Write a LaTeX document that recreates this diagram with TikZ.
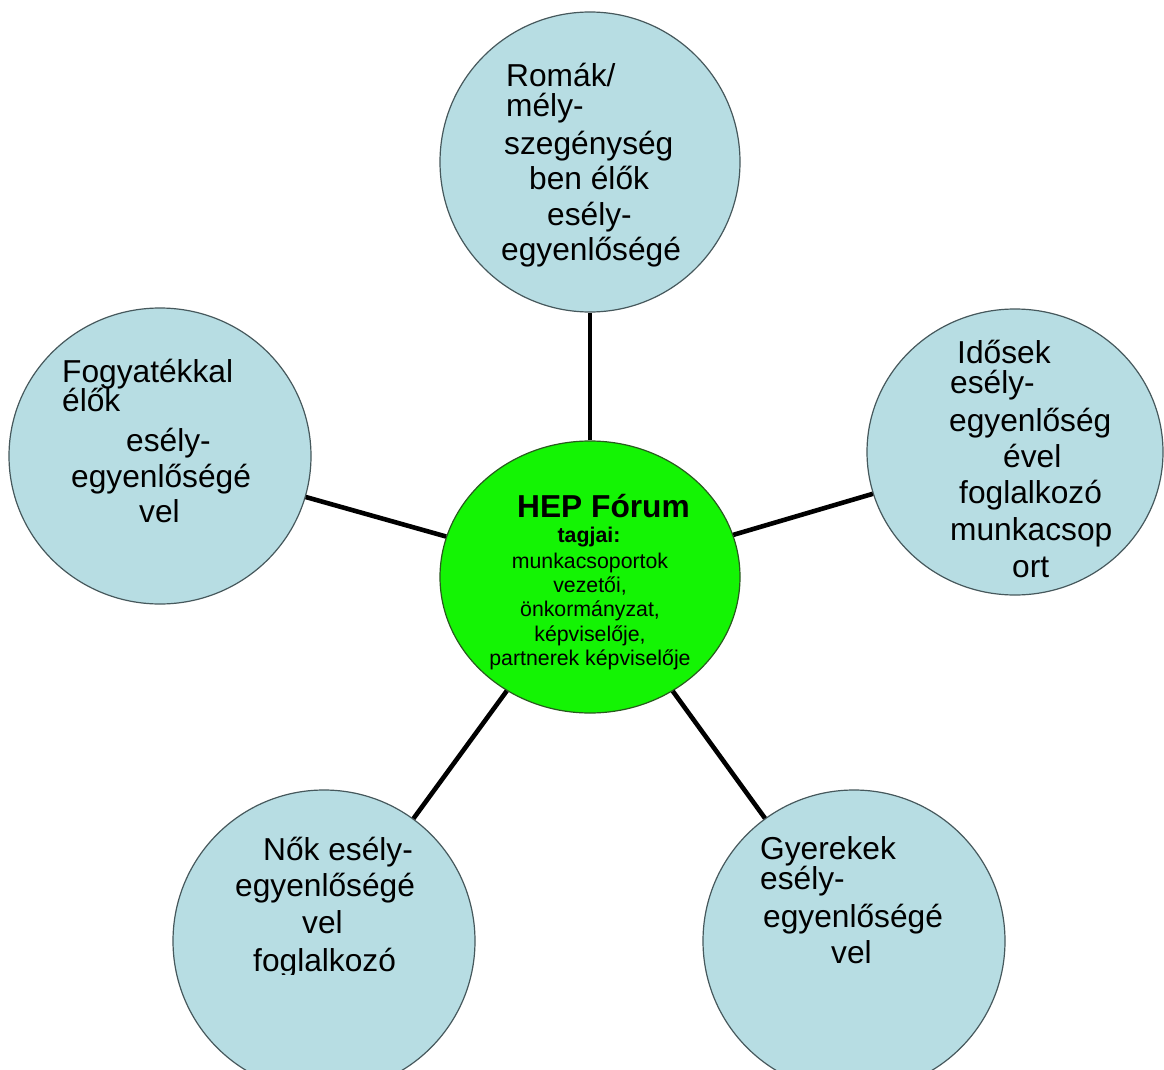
\documentclass[tikz,border=0pt]{standalone}
\usepackage{fontspec}
\setmainfont{Liberation Sans}
\usetikzlibrary{shapes.geometric}
\definecolor{bluefill}{RGB}{183,221,227}
\definecolor{blueline}{RGB}{70,88,92}
\definecolor{greenfill}{RGB}{20,244,4}
\definecolor{greenline}{RGB}{40,90,30}
\tikzset{
  topic/.style={ellipse, draw=blueline, line width=1.2pt, fill=bluefill, inner sep=0pt},
  hub/.style={ellipse, draw=greenline, line width=1.2pt, fill=greenfill, inner sep=0pt,
    minimum width=300pt, minimum height=272pt},
  conn/.style={line width=4.6pt, black},
  big/.style={anchor=base west, inner sep=0pt, font=\fontsize{31.7}{35}\selectfont},
  smalltxt/.style={anchor=base, inner sep=0pt, font=\fontsize{21.3}{24}\selectfont},
}
\begin{document}
\begin{tikzpicture}[x=1pt,y=-1pt]
\useasboundingbox (0,0) rectangle (1164,1070);
\clip (0,0) rectangle (1164,1070);
\fill[white] (0,0) rectangle (1164,1070);

% circles
\node[topic, minimum width=300pt, minimum height=300pt] (roma) at (590,162) {};
\node[topic, minimum width=302pt, minimum height=296pt] (fogy) at (160,456) {};
\node[topic, minimum width=296pt, minimum height=286pt] (idos) at (1015,452) {};
\node[topic, minimum width=302pt, minimum height=302pt] (nok) at (324,941) {};
\node[topic, minimum width=302pt, minimum height=302pt] (gyer) at (854,941) {};
\node[hub] (hep) at (590,577) {};

% connectors
\draw[conn] (hep) -- (roma);
\draw[conn] (hep) -- (fogy);
\draw[conn] (hep) -- (idos);
\draw[conn] (hep) -- (nok);
\draw[conn] (hep) -- (gyer);

% top circle text
\node[big] (roma1) at (506,87) {Romák/};
\node[big] (roma2) at (506,117) {mély-};
\node[big] (roma3) at (504,154) {szegénység};
\node[big] (roma4) at (529,189) {ben élők};
\node[big] (roma5) at (547,225) {esély-};
\node[big] (roma6) at (501,260) {egyenlőségé};

% left circle text
\node[big] (fogy1) at (62,382) {Fogyatékkal};
\node[big] (fogy2) at (62,411) {élők};
\node[big] (fogy3) at (126,451) {esély-};
\node[big] (fogy4) at (71,487) {egyenlőségé};
\node[big] (fogy5) at (139,522) {vel};

% right circle text
\node[big] (idos1) at (957,363) {Idősek};
\node[big] (idos2) at (950,393) {esély-};
\node[big] (idos3) at (949,431) {egyenlőség};
\node[big] (idos4) at (1003,467) {ével};
\node[big] (idos5) at (959,503) {foglalkozó};
\node[big] (idos6) at (950,540) {munkacsop};
\node[big] (idos7) at (1012,577) {ort};

% bottom-left circle text
\node[big] (nok1) at (263,860) {Nők esély-};
\node[big] (nok2) at (235,896) {egyenlőségé};
\node[big] (nok3) at (302,933) {vel};
\begin{scope}
  \clip (170,780) rectangle (480,974);
  \node[big] (nok4) at (253,971) {foglalkozó};
\end{scope}

% bottom-right circle text
\node[big] (gyer1) at (760,859) {Gyerekek};
\node[big] (gyer2) at (760,889) {esély-};
\node[big] (gyer3) at (763,927) {egyenlőségé};
\node[big] (gyer4) at (831,963) {vel};

% centre text
\node[big, font=\bfseries\fontsize{31.7}{35}\selectfont] (hep1) at (517,517) {HEP Fórum};
\node[smalltxt, font=\bfseries\fontsize{21.3}{24}\selectfont] (hep2) at (589,542) {tagjai:};
\node[smalltxt] (hep3) at (590,568) {munkacsoportok};
\node[smalltxt] (hep4) at (590,592) {vezetői,};
\node[smalltxt] (hep5) at (590,616) {önkormányzat,};
\node[smalltxt] (hep6) at (590,641) {képviselője,};
\node[smalltxt] (hep7) at (590,665) {partnerek képviselője};
\end{tikzpicture}
\end{document}
